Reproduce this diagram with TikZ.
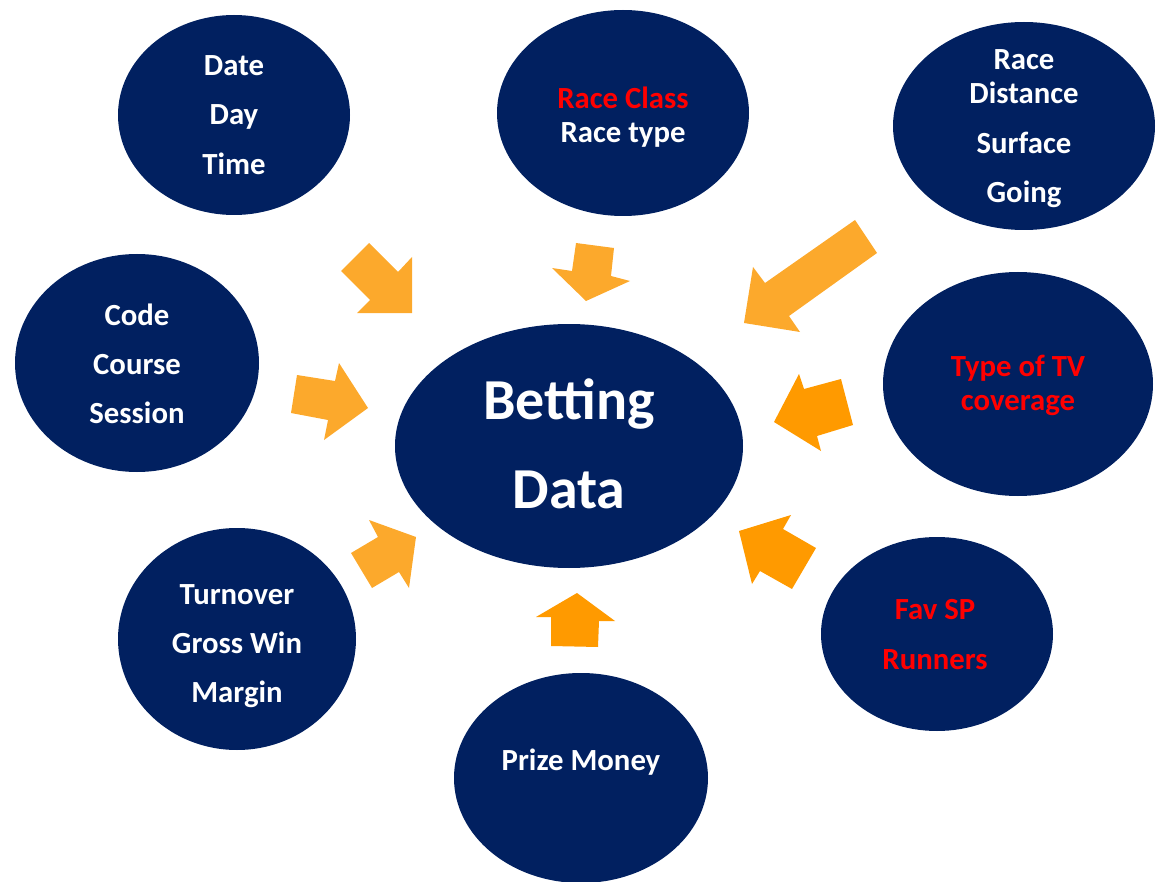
\documentclass[tikz,border=0pt]{standalone}
\usepackage{xcolor}
\usepackage{fontspec}
\setmainfont{Carlito}
\usepackage{tikz}

\definecolor{bubbleblue}{RGB}{1,32,96}
\definecolor{arrowlight}{RGB}{252,169,44}
\definecolor{arrowdark}{RGB}{255,154,0}
\definecolor{hotred}{RGB}{255,0,0}

\tikzset{
  bubble/.style={fill=bubbleblue},
  bubbletext/.style={text=white, align=center, inner sep=0pt, font=\fontsize{17.5}{19.6}\selectfont\bfseries},
  bigtext/.style={text=white, align=center, inner sep=0pt, font=\fontsize{33}{50.3}\selectfont\bfseries},
  lightarrow/.style={fill=arrowlight},
  darkarrow/.style={fill=arrowdark}
}

\begin{document}
\begin{tikzpicture}[x=0.02cm, y=-0.02cm]
  \useasboundingbox (0,0) rectangle (1161,882);
  \fill[bubble] (234,115) ellipse [x radius=116, y radius=100];
  \fill[bubble] (623,113) ellipse [x radius=126, y radius=103];
  \fill[bubble] (1024,126) ellipse [x radius=131, y radius=104];
  \fill[bubble] (137,363) ellipse [x radius=122, y radius=109];
  \fill[bubble] (569,446) ellipse [x radius=174, y radius=122];
  \fill[bubble] (1018,384) ellipse [x radius=135, y radius=112];
  \fill[bubble] (237,639) ellipse [x radius=119, y radius=111];
  \fill[bubble] (581,778) ellipse [x radius=127, y radius=105];
  \fill[bubble] (937,634) ellipse [x radius=116, y radius=97];
  \node[bubbletext] (date) at (234,115) {Date\\[8.4pt]Day\\[8.4pt]Time};
  \node[bubbletext] (class) at (623,117) {\textcolor{hotred}{Race Class}\\Race type};
  \node[bubbletext] (dist) at (1024,128.5) {Race\\Distance\\[8.4pt]Surface\\[8.4pt]Going};
  \node[bubbletext] (code) at (137,364) {Code\\[8.4pt]Course\\[8.4pt]Session};
  \node[bigtext] (bet) at (569,444) {Betting\\Data};
  \node[bubbletext, text=hotred] (tv) at (1018,385.5) {Type of TV\\coverage};
  \node[bubbletext] (turn) at (237,646) {Turnover\\[8.4pt]Gross Win\\[8.4pt]Margin};
  \node[bubbletext] (prize) at (581,762) {Prize Money};
  \node[bubbletext, text=hotred] (fav) at (935,634.5) {Fav SP\\[8.4pt]Runners};
  \fill[lightarrow] (341,271) -- (369,243) -- (398,272) -- (412,257) -- (412,313) -- (357,313) -- (370,300) -- cycle;
  \fill[lightarrow] (576,243) -- (614,248) -- (611,276) -- (630,281) -- (586,301) -- (552,268) -- (572,271) -- cycle;
  \fill[lightarrow] (855,220) -- (877,253) -- (789,316) -- (800,332) -- (744,323) -- (753,267) -- (765,283) -- cycle;
  \fill[lightarrow] (297,375) -- (335,381) -- (339,363) -- (368,408) -- (324,440) -- (328,420) -- (291,413) -- cycle;
  \fill[darkarrow] (841,379) -- (853,425) -- (817,436) -- (821,451) -- (774,422) -- (799,374) -- (804,389) -- cycle;
  \fill[lightarrow] (351,553) -- (372,588) -- (399,572) -- (409,588) -- (416,537) -- (369,520) -- (378,537) -- cycle;
  \fill[darkarrow] (551,646) -- (598,647) -- (599,621) -- (615,621) -- (577,593) -- (536,617) -- (551,617) -- cycle;
  \fill[darkarrow] (816,548) -- (792,589) -- (760,571) -- (752,584) -- (739,531) -- (791,515) -- (783,529) -- cycle;
\end{tikzpicture}
\end{document}
